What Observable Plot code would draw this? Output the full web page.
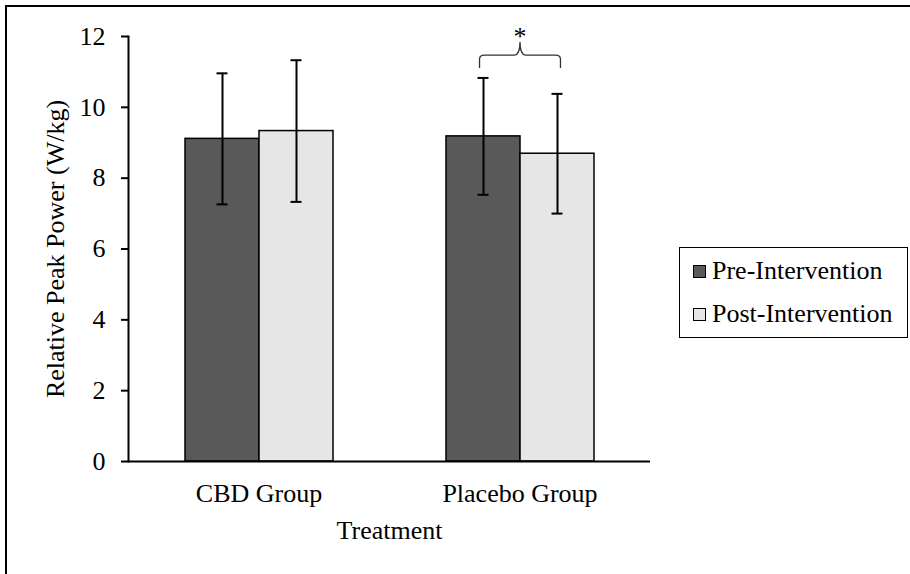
<!DOCTYPE html>
<html>
<head>
<meta charset="utf-8">
<script src="https://cdn.jsdelivr.net/npm/d3@7"></script>
<script src="https://cdn.jsdelivr.net/npm/@observablehq/plot@0.6"></script>
<style>
  html, body { margin: 0; padding: 0; background: #fff; }
  #wrap { position: relative; width: 910px; height: 574px; overflow: hidden; background: #fff;
          font-family: "Liberation Serif", "Times New Roman", serif; }
  #outer { position: absolute; left: 5px; top: 5px; width: 1200px; height: 1200px;
           border-left: 2px solid #000; border-top: 2px solid #000; }
  #chart { position: absolute; left: 0; top: 0; }
  #chart svg g[aria-label="y-axis tick"] path,
  #chart svg g[aria-label="frame"] path,
  #chart svg g[aria-label="frame"] line,
  #chart svg g[aria-label="frame"] rect,
  #chart svg g[aria-label$="line"] path,
  #chart svg g[aria-label$="line"] line,
  #chart svg line[aria-label$="line"],
  #chart svg path[aria-label$="line"] { stroke-width: 2px; }
  #legend { position: absolute; left: 679px; top: 247px; width: 229px; height: 91px;
            box-sizing: border-box; border: 1.5px solid #000; background: #fff; }
  .row { position: absolute; left: 13px; height: 30px; line-height: 30px; font-size: 26px; white-space: nowrap; }
  .sw { display: inline-block; width: 13px; height: 13px; box-sizing: border-box; border: 1.5px solid #000;
        margin-right: 6px; vertical-align: 1px; }
</style>
</head>
<body>
<div id="wrap">
  <div id="outer"></div>
  <div id="chart"></div>
  <div id="legend"></div>
</div>
<script>
// ---- data ----
const groups = ["CBD Group", "Placebo Group"];
const series = ["Pre-Intervention", "Post-Intervention"];
const preMean  = [9.11, 9.18];
const postMean = [9.33, 8.69];
const preSD    = [1.85, 1.65];
const postSD   = [2.00, 1.69];
const yTicks = [0, 2, 4, 6, 8, 10, 12];
const colors = ["#595959", "#e6e6e6"];
// significance annotation (data units)
const sigGroup = ["Placebo Group"];
const sigBase = [11.10];
const sigArm  = [11.46];
const sigTip  = [11.83];
const sigStar = [12.08];
const sigLabel = ["*"];

const data = [];
groups.forEach((g, i) => {
  data.push({group: g, series: series[0], mean: preMean[i], sd: preSD[i]});
  data.push({group: g, series: series[1], mean: postMean[i], sd: postSD[i]});
});
const sig = sigGroup.map((g, i) => ({group: g, base: sigBase[i], arm: sigArm[i], tip: sigTip[i], star: sigStar[i], label: sigLabel[i]}));

const font = '"Liberation Serif", "Times New Roman", serif';

const chart = Plot.plot({
  width: 910,
  height: 574,
  marginLeft: 127,
  marginRight: 260,
  marginTop: 36,
  marginBottom: 113,
  style: {fontFamily: font, fontSize: "26px", background: "transparent", color: "#000", overflow: "visible"},
  fx: {domain: groups, padding: 0, axis: "bottom", tickSize: 0, tickPadding: 22,
       label: "Treatment", labelAnchor: "center", labelOffset: 77, labelArrow: "none"},
  x: {domain: series, paddingInner: 0, paddingOuter: 0.743, axis: null},
  y: {domain: [0, 12], ticks: yTicks, tickSize: 7, tickPadding: 16, line: true,
      label: "Relative Peak Power (W/kg)", labelAnchor: "center", labelOffset: 83, labelArrow: "none"},
  color: {domain: series, range: colors},
  marks: [
    Plot.barY(data, {fx: "group", x: "series", y: "mean", fill: "series", stroke: "#000", strokeWidth: 1.5}),
    Plot.ruleY([0], {stroke: "#000", strokeWidth: 2}),
    Plot.ruleX(data, {fx: "group", x: "series", y1: d => d.mean - d.sd, y2: d => d.mean + d.sd, stroke: "#000", strokeWidth: 2}),
    Plot.tickY(data, {fx: "group", x: "series", y: d => d.mean - d.sd, insetLeft: 31.5, insetRight: 31.5, stroke: "#000", strokeWidth: 2}),
    Plot.tickY(data, {fx: "group", x: "series", y: d => d.mean + d.sd, insetLeft: 31.5, insetRight: 31.5, stroke: "#000", strokeWidth: 2}),
    Plot.dot(sig, {
      fx: "group", x: () => series[0], y: "tip", r: 0,
      render: (index, scales) => {
        const g = d3.create("svg:g");
        for (const i of index) {
          const d = sig[i];
          const step = scales.x(series[1]) - scales.x(series[0]);
          const mid = scales.x(series[1]);
          const hw = step * 0.547;
          const x0 = mid - hw, x1 = mid + hw;
          const yE = scales.y(d.base), yA = scales.y(d.arm), yT = scales.y(d.tip);
          const r = 5;
          const p = `M${x0},${yE} L${x0},${yA + 4} Q${x0},${yA} ${x0 + r},${yA} L${mid - 6},${yA} Q${mid},${yA} ${mid},${yT} Q${mid},${yA} ${mid + 6},${yA} L${x1 - r},${yA} Q${x1},${yA} ${x1},${yA + 4} L${x1},${yE}`;
          g.append("path").attr("d", p).attr("fill", "none").attr("stroke", "#333").attr("stroke-width", 1.3);
          g.append("text").attr("x", mid).attr("y", scales.y(d.star)).attr("dy", "0.46em")
            .attr("text-anchor", "middle").attr("fill", "#000").attr("font-size", 26).attr("font-family", font).text(d.label);
        }
        return g.node();
      }
    })
  ]
});
document.getElementById("chart").appendChild(chart);

// legend
const legend = document.getElementById("legend");
series.forEach((s, i) => {
  const row = document.createElement("div");
  row.className = "row";
  row.style.top = (i === 0 ? 8 : 51) + "px";
  const sw = document.createElement("span");
  sw.className = "sw";
  sw.style.background = colors[i];
  row.appendChild(sw);
  row.appendChild(document.createTextNode(s));
  legend.appendChild(row);
});
</script>
</body>
</html>
